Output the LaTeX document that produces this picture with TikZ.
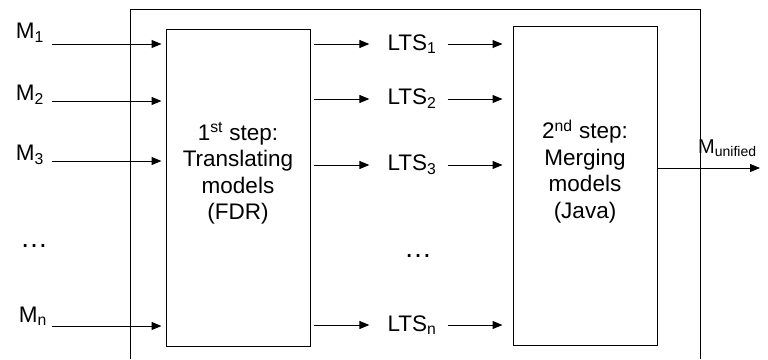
\documentclass[tikz,border=0pt]{standalone}
\usepackage{fontspec}
\setmainfont{Liberation Sans}
\usepackage{tikz}
\usetikzlibrary{arrows.meta,positioning}

\tikzset{
  stage/.style = {draw, line width=1pt, minimum width=144pt},
  stagetext/.style = {align=center, yshift=14pt,
                      font=\fontsize{22.5}{26.5}\selectfont},
  lbl/.style = {font=\fontsize{22.5}{26}\selectfont, inner sep=0pt},
  gap/.style = {font=\fontsize{28}{30}\selectfont, inner sep=0pt},
  flow/.style = {line width=1pt, -{Triangle[length=10pt,width=8pt]}}
}

\begin{document}
\begin{tikzpicture}[x=1pt, y=-1pt]
	\useasboundingbox (0,0) rectangle (768,359);
	% outer frame, open at the bottom
	\draw [line width=1pt] (130,359) -- (130,9) -- (700,9) -- (700,359);
	% the two steps
	\node [stage, minimum height=317pt,
		label={[stagetext]center:1\textsuperscript{st} step:\\Translating\\models\\(FDR)}]
		(trans) at (238,187.5) {};
	\node [stage, minimum height=319pt,
		label={[stagetext]center:2\textsuperscript{nd} step:\\Merging\\models\\(Java)}]
		(merge) at (585,185.5) {};
	% input models
	\coordinate (in1) at (52,44);
	\coordinate (in2) at (52,101);
	\coordinate (in3) at (52,161);
	\coordinate (inn) at (52,326);
	\node [lbl] (m1) at (30,33) {M\textsubscript{1}};
	\node [lbl] (m2) at (30,95) {M\textsubscript{2}};
	\node [lbl] (m3) at (30,155) {M\textsubscript{3}};
	\node [gap] (mdots) at (34,246) {…};
	\node [lbl] (mn) at (33,316) {M\textsubscript{n}};
	\foreach \i in {in1,in2,in3,inn}
		\draw [flow] (\i) -- ([xshift=-4pt]\i -| trans.west);
	% intermediate LTS
	\node [lbl] (lts1) at (412,44) {LTS\textsubscript{1}};
	\node [lbl] (lts2) at (412,99) {LTS\textsubscript{2}};
	\node [lbl] (lts3) at (412,165) {LTS\textsubscript{3}};
	\node [gap] (ltsdots) at (418,256) {…};
	\node [lbl] (ltsn) at (412,325) {LTS\textsubscript{n}};
	\foreach \i in {lts1,lts2,lts3,ltsn} {
		\draw [flow] ([xshift=3pt]\i -| trans.east) -- ([xshift=-18pt]\i.west);
		\draw [flow] ([xshift=11pt]\i.east) -- ([xshift=-10pt]\i -| merge.west);
	}
	% unified result
	\coordinate (out) at (760,168);
	\draw [flow] (out -| merge.east) -- (out);
	\node [lbl, font=\fontsize{20}{22}\selectfont, anchor=west] (mu) at (698,148)
		{M\textsubscript{unified}};
\end{tikzpicture}
\end{document}
